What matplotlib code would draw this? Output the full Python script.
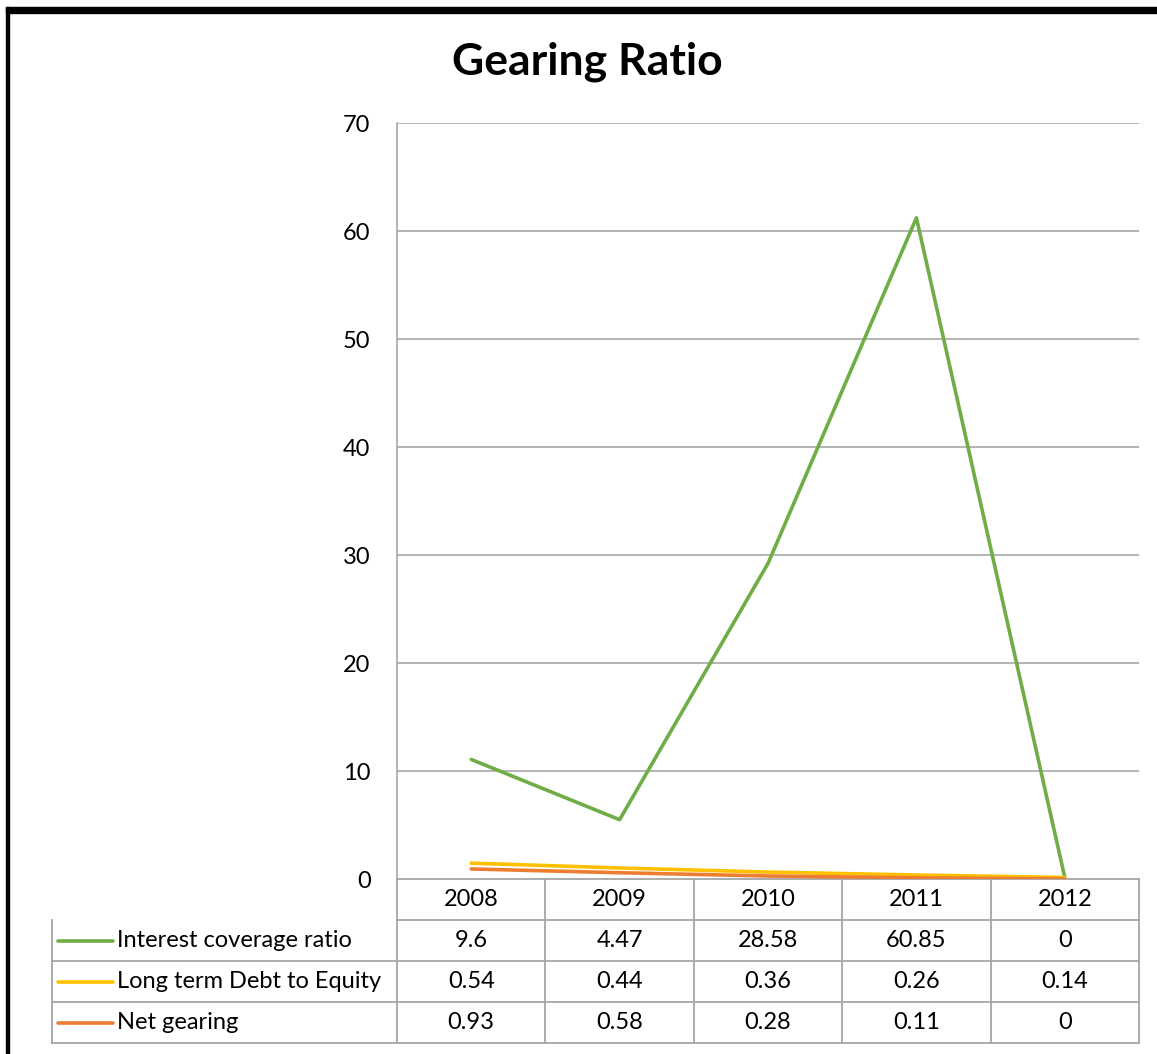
import matplotlib
matplotlib.use('Agg')
import matplotlib.pyplot as plt
import matplotlib.transforms as mtransforms
import numpy as np

plt.rcParams['font.family'] = ['Lato', 'DejaVu Sans']

years = ['2008', '2009', '2010', '2011', '2012']
series_names = ['Interest coverage ratio', 'Long term Debt to Equity', 'Net gearing']
interest_cover = [9.6, 4.47, 28.58, 60.85, 0]
lt_debt_equity = [0.54, 0.44, 0.36, 0.26, 0.14]
net_gearing = [0.93, 0.58, 0.28, 0.11, 0]
colors = ['#70AD47', '#FFC000', '#ED7D31']

W, H = 1157, 1054
fig = plt.figure(figsize=(W / 100, H / 100), dpi=100)
ax = fig.add_axes([397 / W, 175 / H, 742 / W, 756 / H])

# stacked lines: net gearing at the bottom, coverage on top
x = np.arange(len(years)) + 0.5
stack_orange = np.array(net_gearing)
stack_yellow = stack_orange + np.array(lt_debt_equity)
stack_green = stack_yellow + np.array(interest_cover)
ax.plot(x, stack_green, color=colors[0], lw=2.6, solid_capstyle='round', zorder=3)
ax.plot(x, stack_yellow, color=colors[1], lw=2.6, solid_capstyle='round', zorder=3)
ax.plot(x, stack_orange, color=colors[2], lw=2.6, solid_capstyle='round', zorder=3)

ax.set_xlim(0, 5)
ax.set_ylim(0, 70)
ax.set_yticks(range(0, 71, 10))
ax.set_xticks([])
ax.tick_params(axis='y', length=0, pad=19, labelsize=17)
grid_c = '#A0A0A0'
for v in range(10, 71, 10):
    ax.axhline(v, color=grid_c, lw=1.1, zorder=1)
for s in ['top', 'right', 'bottom']:
    ax.spines[s].set_visible(False)
ax.spines['left'].set_color(grid_c)
ax.spines['left'].set_linewidth(1.1)

fig.text(587 / W, 1 - 62 / H, 'Gearing Ratio', fontsize=32, fontweight='bold',
         ha='center', va='center')

# data table underneath the plot
tr = mtransforms.blended_transform_factory(ax.transData, ax.transAxes)
row_h = 41 / 756
label_left = -(397 - 52) / 148.4
tbl_c = '#A6A6A6'
kw = dict(transform=tr, clip_on=False, color=tbl_c, lw=1.3)

ax.plot([0, 5], [0, 0], **kw)
ax.plot([0, 5], [-row_h, -row_h], **kw)
for i in range(1, 4):
    yy = -row_h * (i + 1)
    ax.plot([label_left, 5], [yy, yy], **kw)
ax.plot([label_left, label_left], [-row_h, -row_h * 4], **kw)
for c in range(6):
    ax.plot([c, c], [0, -row_h * 4], **kw)

for c, yr in enumerate(years):
    ax.text(c + 0.5, -row_h * 0.5, yr, transform=tr, ha='center', va='center', fontsize=17)

rows = [interest_cover, lt_debt_equity, net_gearing]
for r, (name, vals, col) in enumerate(zip(series_names, rows, colors)):
    yc = -row_h * (r + 1.5)
    ax.plot([(58 - 397) / 148.4, (113 - 397) / 148.4], [yc, yc], transform=tr,
            clip_on=False, color=col, lw=2.6, solid_capstyle='round')
    ax.text((117 - 397) / 148.4, yc, name, transform=tr, ha='left', va='center', fontsize=17)
    for c, v in enumerate(vals):
        ax.text(c + 0.5, yc, f'{v:g}', transform=tr, ha='center', va='center', fontsize=17)

# thick black frame on the top and left edges
fig.patches.append(plt.Rectangle((6 / W, 0), 3 / W, (H - 7) / H, transform=fig.transFigure,
                                 color='black', zorder=10))
fig.patches.append(plt.Rectangle((6 / W, (H - 13) / H), (W - 6) / W, 6 / H,
                                 transform=fig.transFigure, color='black', zorder=10))

fig.savefig('out.png', dpi=100)
